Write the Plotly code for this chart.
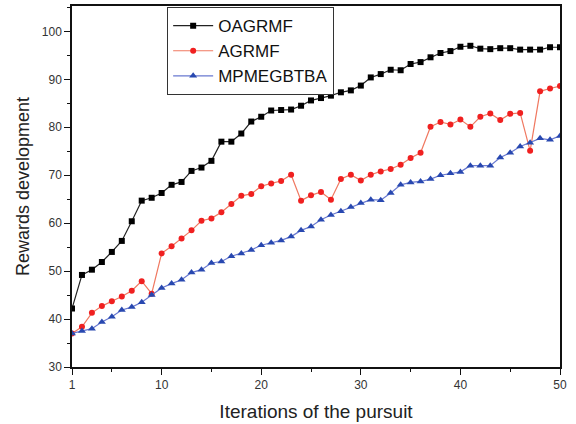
import plotly.graph_objects as go

iterations = list(range(1, 51))

oagrmf = [42.2, 49.2, 50.3, 51.9, 54.0, 56.3, 60.4, 64.7, 65.3, 66.3,
          68.0, 68.6, 70.9, 71.6, 73.0, 77.0, 77.0, 78.7, 81.2, 82.2,
          83.5, 83.6, 83.7, 84.5, 85.6, 86.1, 86.6, 87.3, 87.7, 88.7,
          90.4, 91.1, 92.0, 91.9, 93.2, 93.6, 94.6, 95.5, 95.9, 96.8,
          97.0, 96.4, 96.3, 96.5, 96.5, 96.2, 96.2, 96.2, 96.7, 96.7]

agrmf = [37.0, 38.4, 41.3, 42.7, 43.7, 44.7, 45.9, 47.9, 45.3, 53.7,
         55.2, 56.8, 58.5, 60.5, 61.0, 62.3, 64.0, 65.7, 66.1, 67.7,
         68.3, 68.8, 70.1, 64.7, 65.8, 66.5, 64.9, 69.2, 70.1, 68.9,
         70.1, 70.8, 71.3, 72.2, 73.6, 74.7, 80.1, 81.1, 80.6, 81.6,
         80.1, 82.2, 82.9, 81.5, 82.8, 83.0, 75.1, 87.5, 88.1, 88.6]

mpmegbtba = [37.0, 37.5, 38.0, 39.4, 40.5, 41.9, 42.5, 43.5, 45.0, 46.5,
             47.4, 48.2, 49.7, 50.3, 51.7, 52.0, 53.1, 53.7, 54.4, 55.4,
             55.9, 56.4, 57.2, 58.5, 59.3, 60.7, 61.7, 62.5, 63.4, 64.2,
             64.9, 64.8, 66.3, 68.0, 68.5, 68.7, 69.2, 70.0, 70.4, 70.7,
             72.0, 72.0, 72.0, 73.7, 74.7, 76.0, 76.8, 77.7, 77.4, 78.2]

x_tickvals = [1, 10, 20, 30, 40, 50]
y_tickvals = [30, 40, 50, 60, 70, 80, 90, 100]

fig = go.Figure()
fig.add_trace(go.Scatter(
    x=iterations, y=oagrmf, name="OAGRMF", mode="lines+markers",
    line=dict(color="#222222", width=1.2),
    marker=dict(symbol="square", size=6, color="#000000")))
fig.add_trace(go.Scatter(
    x=iterations, y=agrmf, name="AGRMF", mode="lines+markers",
    line=dict(color="#f07860", width=1.2),
    marker=dict(symbol="circle", size=6, color="#f02020")))
fig.add_trace(go.Scatter(
    x=iterations, y=mpmegbtba, name="MPMEGBTBA", mode="lines+markers",
    line=dict(color="#6878d0", width=1.2),
    marker=dict(symbol="triangle-up", size=7, color="#2848b0")))

font_family = "Liberation Sans, Arial, sans-serif"

fig.update_layout(
    width=576, height=424,
    margin=dict(l=72, r=16, t=4, b=57),
    paper_bgcolor="white", plot_bgcolor="white",
    font=dict(family=font_family, color="#222222", size=12),
    showlegend=True,
    legend=dict(
        x=0.195, y=0.997, xanchor="left", yanchor="top",
        bordercolor="#333333", borderwidth=1, bgcolor="white",
        font=dict(size=17, color="#111111"),
        itemwidth=40, tracegroupgap=0,
    ),
)

fig.update_xaxes(
    range=[1, 50], tickvals=x_tickvals, ticktext=[str(v) for v in x_tickvals],
    showgrid=False, zeroline=False,
    showline=True, linecolor="#111111", linewidth=1.5, mirror=True,
    ticks="outside", ticklen=6, tickwidth=1.2, tickcolor="#111111",
    minor=dict(tickvals=[5, 15, 25, 35, 45], ticks="outside", ticklen=3,
               tickcolor="#111111", tickwidth=1),
    tickfont=dict(size=12, color="#333333"),
    title=dict(text="Iterations of the pursuit", font=dict(size=19), standoff=14),
)
fig.update_yaxes(
    range=[30, 105.3], tickvals=y_tickvals,
    showgrid=False, zeroline=False,
    showline=True, linecolor="#111111", linewidth=1.5, mirror=True,
    ticks="outside", ticklen=6, tickwidth=1.2, tickcolor="#111111",
    minor=dict(tickvals=[35, 45, 55, 65, 75, 85, 95, 105], ticks="outside",
               ticklen=3, tickcolor="#111111", tickwidth=1),
    tickfont=dict(size=12, color="#333333"),
    title=dict(text="Rewards development", font=dict(size=18), standoff=8),
)

fig.write_html("out.html")
